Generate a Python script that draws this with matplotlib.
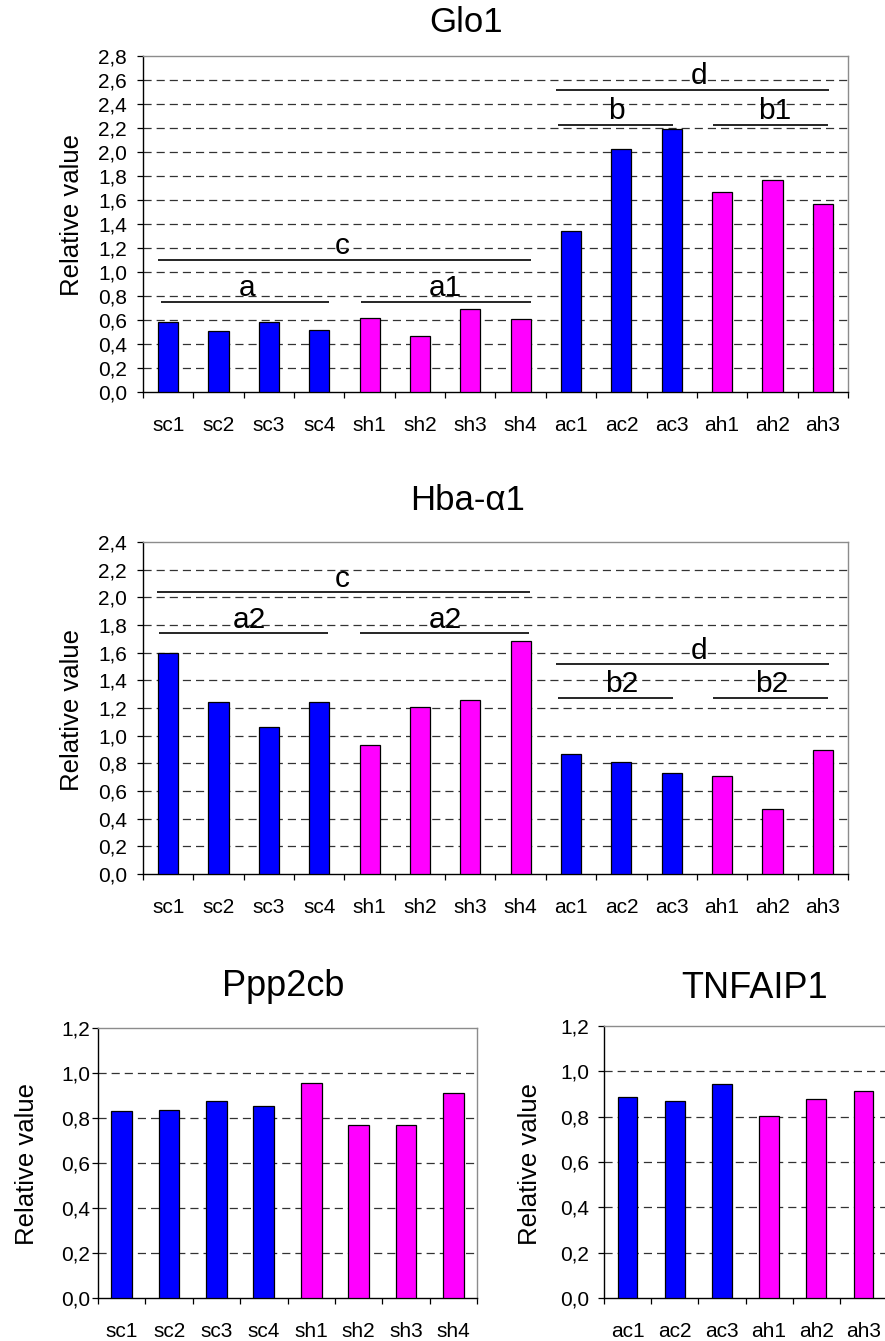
import matplotlib
matplotlib.use("Agg")
from matplotlib import pyplot as plt
import numpy as np

plt.rcParams['font.family'] = ['Liberation Sans', 'DejaVu Sans']

W, H = 885, 1341

# ---- data ----
glo1_labels = ["sc1", "sc2", "sc3", "sc4", "sh1", "sh2", "sh3", "sh4",
               "ac1", "ac2", "ac3", "ah1", "ah2", "ah3"]
glo1_values = [0.58, 0.51, 0.58, 0.52, 0.62, 0.465, 0.69, 0.61,
               1.345, 2.025, 2.195, 1.67, 1.77, 1.57]
glo1_ticks = [0.0, 0.2, 0.4, 0.6, 0.8, 1.0, 1.2, 1.4, 1.6, 1.8, 2.0, 2.2, 2.4, 2.6, 2.8]
# (start, end, height, letter, letter x)
glo1_brackets = [(-0.2, 7.2, 1.10, "c", 3.45),
                 (-0.15, 3.2, 0.753, "a", 1.56),
                 (3.83, 7.2, 0.753, "a1", 5.5),
                 (7.7, 13.13, 2.517, "d", 10.55),
                 (7.75, 10.03, 2.225, "b", 8.9),
                 (10.81, 13.1, 2.225, "b1", 12.05)]

hba_labels = glo1_labels
hba_values = [1.60, 1.24, 1.065, 1.24, 0.93, 1.21, 1.26, 1.685,
              0.87, 0.81, 0.727, 0.705, 0.47, 0.897]
hba_ticks = [0.0, 0.2, 0.4, 0.6, 0.8, 1.0, 1.2, 1.4, 1.6, 1.8, 2.0, 2.2, 2.4]
hba_brackets = [(-0.23, 7.18, 2.038, "c", 3.45),
                (-0.18, 3.18, 1.74, "a2", 1.62),
                (3.81, 7.17, 1.74, "a2", 5.5),
                (7.7, 13.12, 1.516, "d", 10.55),
                (7.75, 10.03, 1.275, "b2", 9.0),
                (10.81, 13.1, 1.275, "b2", 11.99)]

ppp_labels = ["sc1", "sc2", "sc3", "sc4", "sh1", "sh2", "sh3", "sh4"]
ppp_values = [0.83, 0.837, 0.876, 0.854, 0.957, 0.769, 0.769, 0.913]

tnf_labels = ["ac1", "ac2", "ac3", "ah1", "ah2", "ah3"]
tnf_values = [0.885, 0.87, 0.944, 0.801, 0.878, 0.914]

small_ticks = [0.0, 0.2, 0.4, 0.6, 0.8, 1.0, 1.2]

BLUE = "#0000FF"
MAGENTA = "#FF00FF"


def px_axes(fig, left, top, right, bottom):
    return fig.add_axes([left / W, 1 - bottom / H, (right - left) / W, (bottom - top) / H])


def bar_panel(ax, labels, values, yticks, width, ypad):
    n = len(labels)
    x = np.arange(n)
    colors = [BLUE if lab[1] == "c" else MAGENTA for lab in labels]
    ax.bar(x, values, width=width, color=colors, edgecolor="black", linewidth=0.9, zorder=3)
    ax.set_xlim(-0.5, n - 0.5)
    ax.set_ylim(yticks[0], yticks[-1])

    # gridlines between bottom and top border
    for t in yticks[1:-1]:
        ax.axhline(t, color="#333333", linewidth=0.9, dashes=(6.5, 4.0), zorder=1)

    ax.set_yticks(yticks)
    ax.set_yticklabels([f"{t:.1f}".replace(".", ",") for t in yticks])
    ax.tick_params(axis="y", direction="out", length=4.5, width=0.9, pad=ypad,
                   labelsize=15, colors="black")

    ax.set_xticks(x)
    ax.set_xticklabels(labels)
    ax.tick_params(axis="x", which="major", length=0, pad=17, labelsize=15)
    ax.set_xticks(np.arange(n + 1) - 0.5, minor=True)
    ax.tick_params(axis="x", which="minor", direction="out", length=4.5, width=0.9)

    for side in ["left", "bottom"]:
        ax.spines[side].set_color("black")
        ax.spines[side].set_linewidth(1.0)
    for side in ["top", "right"]:
        ax.spines[side].set_color("#8c8c8c")
        ax.spines[side].set_linewidth(1.0)


def brackets(ax, items):
    for x0, x1, y, letter, tx in items:
        ax.plot([x0, x1], [y, y], color="black", linewidth=1.2, zorder=4, solid_capstyle="butt")
        ax.annotate(letter, xy=(tx, y), xytext=(0, 4), textcoords="offset points",
                    ha="center", va="baseline", fontsize=21.5, zorder=5)


fig = plt.figure(figsize=(W / 100, H / 100), dpi=100)
fig.patch.set_facecolor("white")

# Glo1
ax1 = px_axes(fig, 143, 56, 848, 392)
bar_panel(ax1, glo1_labels, glo1_values, glo1_ticks, 0.4, 7)
brackets(ax1, glo1_brackets)
fig.text(466 / W, 1 - 23 / H, "Glo1", ha="center", va="center", fontsize=25)
fig.text(72 / W, 1 - 215 / H, "Relative value", rotation=90, ha="center", va="center", fontsize=18.5)

# Hba-a1
ax2 = px_axes(fig, 143, 542, 848, 874)
bar_panel(ax2, hba_labels, hba_values, hba_ticks, 0.4, 7)
brackets(ax2, hba_brackets)
fig.text(468 / W, 1 - 500 / H, "Hba-α1", ha="center", va="center", fontsize=25)
fig.text(72 / W, 1 - 710 / H, "Relative value", rotation=90, ha="center", va="center", fontsize=18.5)

# Ppp2cb
ax3 = px_axes(fig, 98, 1028, 477, 1298)
bar_panel(ax3, ppp_labels, ppp_values, small_ticks, 0.44, 1)
fig.text(283 / W, 1 - 987 / H, "Ppp2cb", ha="center", va="center", fontsize=26)
fig.text(27 / W, 1 - 1164 / H, "Relative value", rotation=90, ha="center", va="center", fontsize=18.5)

# TNFAIP1
ax4 = px_axes(fig, 604, 1026, 887, 1298)
bar_panel(ax4, tnf_labels, tnf_values, small_ticks, 0.42, 6)
fig.text(755 / W, 1 - 988 / H, "TNFAIP1", ha="center", va="center", fontsize=26)
fig.text(530 / W, 1 - 1164 / H, "Relative value", rotation=90, ha="center", va="center", fontsize=18.5)

fig.savefig("out.png", dpi=100)
